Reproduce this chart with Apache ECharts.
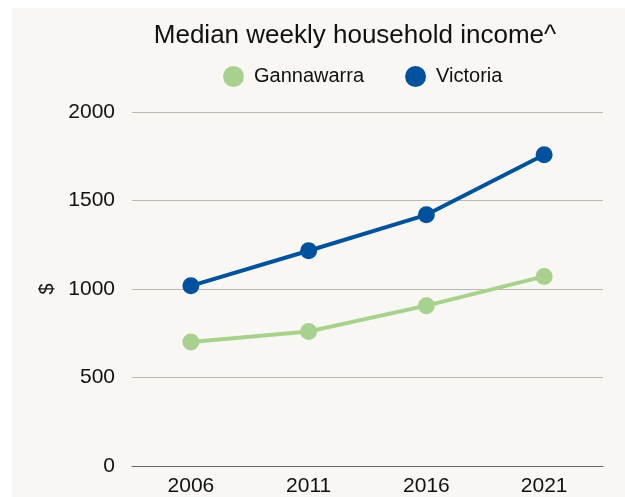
<!DOCTYPE html>
<html>
<head>
<meta charset="utf-8">
<script src="https://cdn.jsdelivr.net/npm/echarts@6/dist/echarts.min.js"></script>
<style>
  html, body { margin: 0; padding: 0; background: #fff; }
  #chart { width: 625px; height: 497px; }
</style>
</head>
<body>
<div id="chart"></div>
<script>
  var years = ['2006', '2011', '2016', '2021'];
  var gannawarra = [700, 760, 906, 1071];
  var victoria = [1018, 1216, 1419, 1759];
  var yTicks = [0, 500, 1000, 1500, 2000];

  var font = '"Liberation Sans", Arial, sans-serif';
  var chart = echarts.init(document.getElementById('chart'));
  chart.setOption({
    animation: false,
    backgroundColor: '#fff',
    textStyle: { fontFamily: font },
    // beige panel behind the plot
    graphic: [{
      type: 'rect',
      z: -10,
      shape: { x: 12, y: 8, width: 613, height: 489 },
      style: { fill: '#f9f7f3' }
    }],
    title: {
      text: 'Median weekly household income^',
      left: 350,
      textAlign: 'center',
      top: 18,
      textStyle: { fontSize: 26, fontWeight: 'normal', color: '#111', fontFamily: font }
    },
    legend: {
      left: 218,
      top: 61,
      icon: 'circle',
      itemWidth: 21,
      itemHeight: 21,
      itemGap: 41,
      textStyle: { fontSize: 20, color: '#111', fontFamily: font, padding: [0, 0, 0, 5] },
      data: ['Gannawarra', 'Victoria']
    },
    grid: { left: 132, right: 22, top: 112, bottom: 29 },
    xAxis: {
      type: 'category',
      data: years,
      axisLine: { lineStyle: { color: '#666', width: 1 } },
      axisTick: { show: false },
      axisLabel: { fontSize: 21, color: '#111', margin: 10, fontFamily: font }
    },
    yAxis: {
      type: 'value',
      min: yTicks[0],
      max: yTicks[yTicks.length - 1],
      interval: 500,
      name: '$',
      nameLocation: 'middle',
      nameGap: 75,
      nameRotate: 90,
      nameTextStyle: { fontSize: 20, color: '#111', fontFamily: font },
      axisLine: { show: false },
      axisTick: { show: false },
      axisLabel: { fontSize: 21, color: '#111', margin: 17, fontFamily: font,
        formatter: function (v) { return String(v); } },
      splitLine: { lineStyle: { color: '#bdb9b5', width: 1 } }
    },
    series: [
      {
        name: 'Gannawarra',
        type: 'line',
        data: gannawarra,
        symbol: 'circle',
        symbolSize: 17,
        itemStyle: { color: '#a9d18e' },
        lineStyle: { color: '#a9d18e', width: 4 }
      },
      {
        name: 'Victoria',
        type: 'line',
        data: victoria,
        symbol: 'circle',
        symbolSize: 17,
        itemStyle: { color: '#00529e' },
        lineStyle: { color: '#00529e', width: 4 }
      }
    ]
  });
</script>
</body>
</html>
